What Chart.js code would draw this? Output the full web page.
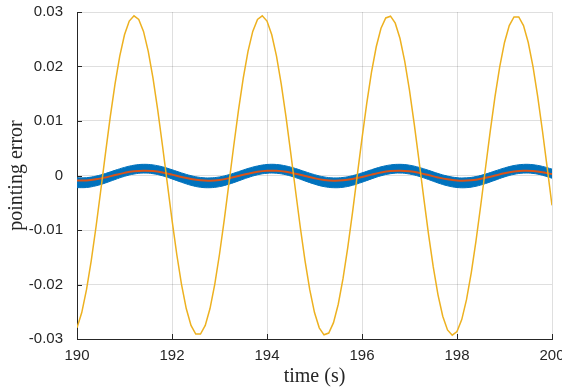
<!DOCTYPE html>
<html>
<head>
<meta charset="utf-8">
<script src="https://cdn.jsdelivr.net/npm/chart.js@4/dist/chart.umd.min.js"></script>
<style>
  html, body { margin: 0; padding: 0; background: #fff; }
  canvas { display: block; }
</style>
</head>
<body>
<canvas id="errorChart" width="562" height="390"></canvas>
<script>
// time samples for the large (yellow) oscillation, 0.1 s apart
const fineTimes = [
    190.0, 190.1, 190.2, 190.3, 190.4, 190.5, 190.6, 190.7, 190.8, 190.9,
    191.0, 191.1, 191.2, 191.3, 191.4, 191.5, 191.6, 191.7, 191.8, 191.9,
    192.0, 192.1, 192.2, 192.3, 192.4, 192.5, 192.6, 192.7, 192.8, 192.9,
    193.0, 193.1, 193.2, 193.3, 193.4, 193.5, 193.6, 193.7, 193.8, 193.9,
    194.0, 194.1, 194.2, 194.3, 194.4, 194.5, 194.6, 194.7, 194.8, 194.9,
    195.0, 195.1, 195.2, 195.3, 195.4, 195.5, 195.6, 195.7, 195.8, 195.9,
    196.0, 196.1, 196.2, 196.3, 196.4, 196.5, 196.6, 196.7, 196.8, 196.9,
    197.0, 197.1, 197.2, 197.3, 197.4, 197.5, 197.6, 197.7, 197.8, 197.9,
    198.0, 198.1, 198.2, 198.3, 198.4, 198.5, 198.6, 198.7, 198.8, 198.9,
    199.0, 199.1, 199.2, 199.3, 199.4, 199.5, 199.6, 199.7, 199.8, 199.9,
    200.0
];
const yellowErr = [
    -0.02795, -0.02515, -0.02096, -0.01563, -0.00945, -0.00275, 0.00411, 0.01074, 0.01677, 0.02190,
    0.02582, 0.02833, 0.02929, 0.02865, 0.02644, 0.02279, 0.01788, 0.01200, 0.00546, -0.00137,
    -0.00814, -0.01445, -0.01997, -0.02441, -0.02751, -0.02910, -0.02910, -0.02751, -0.02441, -0.01997,
    -0.01445, -0.00814, -0.00137, 0.00546, 0.01200, 0.01788, 0.02279, 0.02644, 0.02865, 0.02929,
    0.02833, 0.02582, 0.02190, 0.01677, 0.01074, 0.00411, -0.00275, -0.00945, -0.01563, -0.02096,
    -0.02515, -0.02795, -0.02923, -0.02891, -0.02700, -0.02362, -0.01894, -0.01324, -0.00681, 0.00001,
    0.00681, 0.01324, 0.01895, 0.02362, 0.02701, 0.02891, 0.02923, 0.02795, 0.02514, 0.02096,
    0.01562, 0.00944, 0.00274, -0.00411, -0.01074, -0.01678, -0.02190, -0.02582, -0.02833, -0.02929,
    -0.02865, -0.02644, -0.02278, -0.01788, -0.01199, -0.00546, 0.00138, 0.00815, 0.01446, 0.01998,
    0.02441, 0.02751, 0.02910, 0.02910, 0.02750, 0.02440, 0.01997, 0.01444, 0.00812, 0.00137,
    -0.00548
];

// time samples for the small oscillations, 0.2 s apart
const coarseTimes = [
    190.0, 190.2, 190.4, 190.6, 190.8, 191.0, 191.2, 191.4, 191.6, 191.8,
    192.0, 192.2, 192.4, 192.6, 192.8, 193.0, 193.2, 193.4, 193.6, 193.8,
    194.0, 194.2, 194.4, 194.6, 194.8, 195.0, 195.2, 195.4, 195.6, 195.8,
    196.0, 196.2, 196.4, 196.6, 196.8, 197.0, 197.2, 197.4, 197.6, 197.8,
    198.0, 198.2, 198.4, 198.6, 198.8, 199.0, 199.2, 199.4, 199.6, 199.8,
    200.0
];
// upper and lower edge of the thick blue band
const blueUpper = [
    -0.00043, -0.00040, -0.00011, 0.00037, 0.00095, 0.00149, 0.00189, 0.00205, 0.00194, 0.00159,
    0.00106, 0.00048, -0.00003, -0.00036, -0.00044, -0.00026, 0.00016, 0.00071, 0.00129, 0.00175,
    0.00202, 0.00202, 0.00175, 0.00129, 0.00071, 0.00016, -0.00026, -0.00044, -0.00036, -0.00003,
    0.00048, 0.00106, 0.00159, 0.00194, 0.00205, 0.00189, 0.00149, 0.00095, 0.00037, -0.00011,
    -0.00040, -0.00043, -0.00019, 0.00026, 0.00083, 0.00139, 0.00183, 0.00204, 0.00198, 0.00167,
    0.00117
];
const blueLower = [
    -0.00223, -0.00220, -0.00189, -0.00137, -0.00074, -0.00015, 0.00027, 0.00045, 0.00033, -0.00005,
    -0.00062, -0.00124, -0.00180, -0.00216, -0.00224, -0.00204, -0.00159, -0.00100, -0.00038, 0.00013,
    0.00041, 0.00041, 0.00013, -0.00038, -0.00100, -0.00159, -0.00204, -0.00224, -0.00216, -0.00180,
    -0.00124, -0.00062, -0.00005, 0.00033, 0.00045, 0.00027, -0.00015, -0.00074, -0.00137, -0.00189,
    -0.00220, -0.00223, -0.00197, -0.00148, -0.00087, -0.00026, 0.00021, 0.00044, 0.00038, 0.00004,
    -0.00050
];
const redErr = [
    -0.00093, -0.00091, -0.00070, -0.00035, 0.00008, 0.00048, 0.00077, 0.00089, 0.00081, 0.00055,
    0.00016, -0.00026, -0.00064, -0.00089, -0.00095, -0.00081, -0.00050, -0.00009, 0.00033, 0.00067,
    0.00086, 0.00086, 0.00067, 0.00033, -0.00009, -0.00050, -0.00081, -0.00095, -0.00089, -0.00064,
    -0.00026, 0.00016, 0.00055, 0.00081, 0.00089, 0.00077, 0.00048, 0.00008, -0.00035, -0.00070,
    -0.00091, -0.00093, -0.00076, -0.00043, -0.00001, 0.00041, 0.00072, 0.00088, 0.00084, 0.00061,
    0.00025
];

const xTickValues = [190, 192, 194, 196, 198, 200];
const xTickLabels = ['190', '192', '194', '196', '198', '200'];
const yTickValues = [-0.03, -0.02, -0.01, 0, 0.01, 0.02, 0.03];
const yTickLabels = ['-0.03', '-0.02', '-0.01', '0', '0.01', '0.02', '0.03'];

const axisColor = '#262626';
const gridColor = 'rgba(38, 38, 38, 0.15)';

function toPoints(xs, ys) {
    return xs.map((x, i) => ({ x: x, y: ys[i] }));
}

// MATLAB-style tick marks pointing into the plot
const innerTicks = {
    id: 'innerTicks',
    afterDraw(chart) {
        const ctx = chart.ctx;
        const area = chart.chartArea;
        const xs = chart.scales.x, ys = chart.scales.y;
        ctx.save();
        ctx.strokeStyle = axisColor;
        ctx.lineWidth = 1;
        ctx.beginPath();
        xTickValues.forEach(v => {
            const px = Math.round(xs.getPixelForValue(v)) + 0.5;
            ctx.moveTo(px, area.bottom);
            ctx.lineTo(px, area.bottom - 5);
        });
        yTickValues.forEach(v => {
            const py = Math.round(ys.getPixelForValue(v)) + 0.5;
            ctx.moveTo(area.left, py);
            ctx.lineTo(area.left + 5, py);
        });
        ctx.stroke();
        ctx.restore();
    }
};

document.addEventListener('DOMContentLoaded', function () {
    const ctx = document.getElementById('errorChart').getContext('2d');
    new Chart(ctx, {
        type: 'line',
        data: {
            datasets: [
                {
                    label: 'band upper',
                    data: toPoints(coarseTimes, blueUpper),
                    borderColor: '#0072BD',
                    backgroundColor: '#0072BD',
                    borderWidth: 1,
                    fill: '+1',
                    tension: 0.4,
                    pointRadius: 0,
                    order: 3
                },
                {
                    label: 'band lower',
                    data: toPoints(coarseTimes, blueLower),
                    borderColor: '#0072BD',
                    borderWidth: 1,
                    fill: false,
                    tension: 0.4,
                    pointRadius: 0,
                    order: 2
                },
                {
                    label: 'red',
                    data: toPoints(coarseTimes, redErr),
                    borderColor: '#D95319',
                    borderWidth: 2,
                    fill: false,
                    tension: 0.4,
                    pointRadius: 0,
                    order: 1
                },
                {
                    label: 'yellow',
                    data: toPoints(fineTimes, yellowErr),
                    borderColor: '#EDB120',
                    borderWidth: 1.5,
                    fill: false,
                    tension: 0,
                    pointRadius: 0,
                    order: 0
                }
            ]
        },
        options: {
            responsive: false,
            animation: false,
            devicePixelRatio: 1,
            layout: { padding: { top: 12, right: 10, left: 0, bottom: 0 } },
            plugins: {
                legend: { display: false },
                tooltip: { enabled: false }
            },
            scales: {
                x: {
                    type: 'linear',
                    min: 190,
                    max: 200,
                    afterBuildTicks: scale => { scale.ticks = xTickValues.map(v => ({ value: v })); },
                    afterFit: scale => { scale.height = 51; scale.paddingLeft = 0; scale.paddingRight = 0; },
                    ticks: {
                        autoSkip: false,
                        maxRotation: 0,
                        padding: 8,
                        color: axisColor,
                        font: { family: '"Liberation Sans", Arial, sans-serif', size: 15 },
                        callback: (v, i) => xTickLabels[i]
                    },
                    grid: { color: gridColor, drawTicks: false },
                    border: { color: axisColor, width: 1 },
                    title: {
                        display: true,
                        text: 'time (s)',
                        color: axisColor,
                        padding: { top: 0, bottom: 1 },
                        font: { family: '"Liberation Serif", "Times New Roman", serif', size: 20 }
                    }
                },
                y: {
                    min: -0.03,
                    max: 0.03,
                    afterBuildTicks: scale => { scale.ticks = yTickValues.map(v => ({ value: v })); },
                    afterFit: scale => { scale.width = 77; scale.paddingTop = 0; scale.paddingBottom = 0; },
                    ticks: {
                        padding: 14,
                        color: axisColor,
                        font: { family: '"Liberation Sans", Arial, sans-serif', size: 15 },
                        callback: (v, i) => yTickLabels[i]
                    },
                    grid: { color: gridColor, drawTicks: false },
                    border: { color: axisColor, width: 1 },
                    title: {
                        display: true,
                        text: 'pointing error',
                        color: axisColor,
                        padding: { top: 5, bottom: 0 },
                        font: { family: '"Liberation Serif", "Times New Roman", serif', size: 20 }
                    }
                }
            }
        },
        plugins: [innerTicks]
    });
});
</script>
</body>
</html>
